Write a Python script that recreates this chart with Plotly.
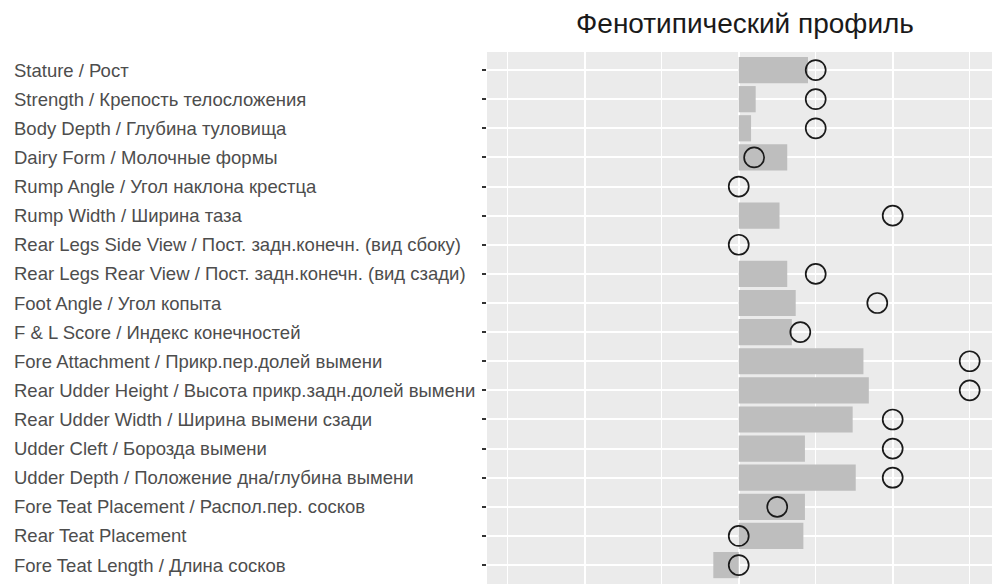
import plotly.graph_objects as go

traits = [
    "Stature / Рост",
    "Strength / Крепость телосложения",
    "Body Depth / Глубина туловища",
    "Dairy Form / Молочные формы",
    "Rump Angle / Угол наклона крестца",
    "Rump Width / Ширина таза",
    "Rear Legs Side View / Пост. задн.конечн. (вид сбоку)",
    "Rear Legs Rear View / Пост. задн.конечн. (вид сзади)",
    "Foot Angle / Угол копыта",
    "F & L Score / Индекс конечностей",
    "Fore Attachment / Прикр.пер.долей вымени",
    "Rear Udder Height / Высота прикр.задн.долей вымени",
    "Rear Udder Width / Ширина вымени сзади",
    "Udder Cleft / Борозда вымени",
    "Udder Depth / Положение дна/глубина вымени",
    "Fore Teat Placement / Распол.пер. сосков",
    "Rear Teat Placement",
    "Fore Teat Length / Длина сосков",
]
bar_values = [0.90, 0.22, 0.16, 0.63, 0.0, 0.53, 0.0, 0.63, 0.74, 0.69,
              1.62, 1.69, 1.48, 0.86, 1.52, 0.86, 0.84, -0.33]
point_values = [1.0, 1.0, 1.0, 0.2, 0.0, 2.0, 0.0, 1.0, 1.8, 0.8,
                3.0, 3.0, 2.0, 2.0, 2.0, 0.5, 0.0, 0.0]
major_ticks = [-2, 0, 2]
minor_ticks = [-3, -1, 1, 3]
title_text = "Фенотипический профиль"

FONT = "Liberation Sans, Arial, sans-serif"

fig = go.Figure()
fig.add_trace(go.Bar(
    y=traits, x=bar_values, orientation="h", width=0.9,
    marker=dict(color="#BEBEBE", line=dict(width=0)),
    hoverinfo="x+y", showlegend=False,
))
fig.add_trace(go.Scatter(
    y=traits, x=point_values, mode="markers",
    marker=dict(symbol="circle-open", size=20, color="#1A1A1A",
                line=dict(width=1.7, color="#1A1A1A")),
    showlegend=False,
))

for t in traits:
    fig.add_annotation(
        x=-0.9406, xref="paper", y=t, yref="y", text=t,
        showarrow=False, xanchor="left", yanchor="middle",
        font=dict(family=FONT, size=18.5, color="#4D4D4D"),
    )

fig.update_layout(
    width=992, height=584,
    margin=dict(l=487, r=0, t=52, b=0, pad=0),
    paper_bgcolor="white",
    plot_bgcolor="#EBEBEB",
    bargap=0.1,
    title=dict(text=title_text, x=0.751, xanchor="center", y=0.961, yanchor="middle",
               font=dict(family=FONT, size=28, color="#1A1A1A")),
    xaxis=dict(
        range=[-3.27, 3.29], tickvals=major_ticks, showticklabels=False,
        showgrid=True, gridcolor="white", gridwidth=1.6, zeroline=False,
        ticks="", showline=False,
        minor=dict(tickvals=minor_ticks, showgrid=True, gridcolor="white", gridwidth=0.9),
    ),
    yaxis=dict(
        type="category", categoryorder="array", categoryarray=traits,
        range=[17.65, -0.62], showticklabels=False,
        showgrid=True, gridcolor="white", gridwidth=1.6, zeroline=False,
        ticks="outside", ticklen=4, tickwidth=1.5, tickcolor="#333333", showline=False,
    ),
)

fig.write_html(
    "out.html",
    config={"displayModeBar": False},
    post_script="document.body.style.margin='0';document.body.style.overflow='hidden';",
)
